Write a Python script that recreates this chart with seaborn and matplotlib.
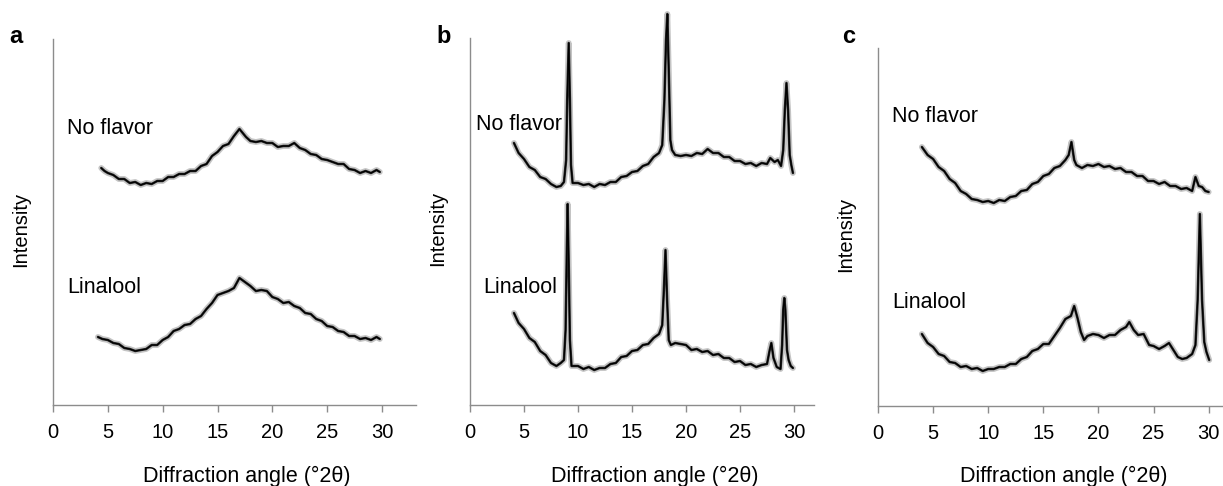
import matplotlib
matplotlib.use("Agg")
import matplotlib.pyplot as plt
import seaborn as sns

# ---- data (intensity in arbitrary units) ----
# panel a
a_top_x = [4.4, 4.7, 5.0, 5.5, 6.0, 6.5, 7.0, 7.5, 8.0, 8.5, 9.0, 9.5, 10.0, 10.5, 11.0, 11.5,
           12.0, 12.5, 13.0, 13.5, 14.0, 14.5, 15.0, 15.5, 16.0, 16.5, 17.0, 17.3, 17.6, 18.0,
           18.5, 19.0, 19.5, 20.0, 20.5, 21.0, 21.5, 22.0, 22.5, 23.0, 23.5, 24.0, 24.5, 25.0,
           25.5, 26.0, 26.5, 27.0, 27.5, 28.0, 28.5, 29.0, 29.5, 29.8]
a_top_y = [237, 234, 232, 230, 226, 226, 222, 223, 220, 222, 221, 224, 224, 228, 228, 231,
           231, 234, 234, 239, 241, 249, 253, 259, 261, 269, 276, 272, 268, 264,
           263, 264, 262, 262, 258, 259, 259, 262, 257, 255, 251, 250, 246, 245,
           243, 241, 241, 236, 235, 232, 234, 232, 235, 233]
a_bot_x = [4.1, 4.5, 5.0, 5.5, 6.0, 6.5, 7.0, 7.5, 8.0, 8.5, 9.0, 9.5, 10.0, 10.5, 11.0, 11.5,
           12.0, 12.5, 13.0, 13.5, 14.0, 14.5, 15.0, 15.5, 16.0, 16.5, 17.0, 17.5, 18.0, 18.5,
           19.0, 19.5, 20.0, 20.5, 21.0, 21.5, 22.0, 22.5, 23.0, 23.5, 24.0, 24.5, 25.0, 25.5,
           26.0, 26.5, 27.0, 27.5, 28.0, 28.5, 29.0, 29.5, 29.8]
a_bot_y = [68, 66, 65, 62, 61, 57, 56, 54, 55, 56, 60, 60, 65, 68, 74, 76,
           80, 81, 86, 89, 96, 102, 110, 112, 114, 117, 127, 123, 119, 114,
           115, 114, 108, 106, 102, 103, 99, 97, 92, 91, 86, 84, 79, 78,
           74, 73, 69, 69, 66, 67, 65, 68, 66]

# panel b
b_top_x = [4.07, 4.5, 5.0, 5.5, 6.0, 6.5, 7.0, 7.5, 8.0, 8.4, 8.7, 8.9, 9.0, 9.14, 9.25, 9.35,
           9.5, 10.0, 10.5, 11.0, 11.5, 12.0, 12.5, 13.0, 13.5, 14.0, 14.5, 15.0, 15.5, 16.0,
           16.5, 17.0, 17.5, 17.8, 18.0, 18.15, 18.27, 18.4, 18.55, 18.7, 19.0, 19.5, 20.0,
           20.5, 21.0, 21.5, 22.0, 22.5, 23.0, 23.5, 24.0, 24.5, 25.0, 25.5, 26.0, 26.5, 27.0,
           27.5, 27.8, 28.2, 28.5, 28.8, 29.0, 29.15, 29.3, 29.45, 29.6, 29.75, 29.9]
b_top_y = [262, 252, 246, 238, 235, 228, 226, 221, 218, 219, 223, 245, 305, 362, 305, 240,
           222, 222, 220, 221, 218, 221, 220, 223, 223, 228, 229, 233, 234, 239,
           241, 248, 252, 260, 305, 365, 391, 335, 265, 255, 250, 249, 250,
           249, 252, 251, 256, 252, 252, 248, 248, 244, 244, 241, 242, 239, 242,
           241, 247, 243, 245, 239, 255, 295, 322, 295, 250, 240, 232]
b_bot_x = [4.07, 4.5, 5.0, 5.5, 6.0, 6.5, 7.0, 7.5, 8.0, 8.4, 8.7, 8.85, 8.95, 9.04, 9.15,
           9.25, 9.4, 10.0, 10.5, 11.0, 11.5, 12.0, 12.5, 13.0, 13.5, 14.0, 14.5, 15.0, 15.5,
           16.0, 16.5, 17.0, 17.5, 17.8, 17.95, 18.1, 18.25, 18.4, 18.6, 19.0, 19.5, 20.0,
           20.5, 21.0, 21.5, 22.0, 22.5, 23.0, 23.5, 24.0, 24.5, 25.0, 25.5, 26.0, 26.5, 27.0,
           27.5, 27.75, 27.9, 28.1, 28.4, 28.75, 28.9, 29.0, 29.1, 29.2, 29.35, 29.5, 29.7, 29.9]
b_bot_y = [92, 82, 76, 67, 63, 54, 50, 42, 39, 42, 45, 75, 145, 201, 135,
           65, 39, 39, 36, 38, 35, 37, 37, 41, 42, 48, 49, 54, 55,
           60, 61, 67, 71, 80, 115, 155, 105, 65, 60, 62, 61, 60,
           55, 56, 53, 54, 50, 51, 47, 47, 43, 44, 40, 41, 38, 40,
           41, 55, 62, 47, 38, 36, 60, 95, 107, 95, 55, 45, 39, 37]

# panel c
c_top_x = [3.98, 4.5, 5.0, 5.5, 6.0, 6.5, 7.0, 7.5, 8.0, 8.5, 9.0, 9.5, 10.0, 10.5, 11.0,
           11.5, 12.0, 12.5, 13.0, 13.5, 14.0, 14.5, 15.0, 15.5, 16.0, 16.5, 17.0, 17.3,
           17.55, 17.8, 18.0, 18.5, 19.0, 19.5, 20.0, 20.5, 21.0, 21.5, 22.0, 22.5, 23.0,
           23.5, 24.0, 24.5, 25.0, 25.5, 26.0, 26.5, 27.0, 27.5, 28.0, 28.5, 28.8, 29.1,
           29.4, 29.7, 30.0]
c_top_y = [259, 251, 247, 239, 235, 227, 223, 215, 212, 207, 206, 204, 205, 203, 206,
           205, 209, 210, 215, 216, 222, 224, 230, 232, 238, 240, 246, 251,
           264, 246, 241, 238, 241, 240, 242, 239, 240, 237, 238, 234, 234,
           230, 230, 225, 225, 222, 224, 220, 220, 217, 218, 215, 229, 220,
           219, 215, 214]
c_bot_x = [3.98, 4.5, 5.0, 5.5, 6.0, 6.5, 7.0, 7.5, 8.0, 8.5, 9.0, 9.5, 10.0, 10.5, 11.0,
           11.5, 12.0, 12.5, 13.0, 13.5, 14.0, 14.5, 15.0, 15.5, 16.0, 16.5, 17.0, 17.5,
           17.8, 18.1, 18.4, 18.7, 19.0, 19.5, 20.0, 20.5, 21.0, 21.5, 22.0, 22.5, 22.8,
           23.2, 23.6, 24.1, 24.6, 25.0, 25.5, 26.0, 26.4, 26.8, 27.2, 27.6, 28.0, 28.5,
           28.8, 29.0, 29.2, 29.4, 29.6, 29.8, 30.05]
c_bot_y = [72, 63, 59, 52, 50, 44, 43, 39, 40, 37, 38, 35, 37, 37, 39,
           39, 42, 42, 47, 49, 55, 57, 62, 62, 70, 78, 87, 90,
           100, 88, 74, 66, 70, 72, 71, 68, 71, 71, 76, 79, 84,
           76, 71, 72, 61, 60, 57, 60, 63, 56, 49, 47, 48, 52,
           61, 106, 192, 106, 64, 54, 46]

panels = [
    ("a", a_top_x, a_top_y, a_bot_x, a_bot_y),
    ("b", b_top_x, b_top_y, b_bot_x, b_bot_y),
    ("c", c_top_x, c_top_y, c_bot_x, c_bot_y),
]
x_ticks = [0, 5, 10, 15, 20, 25, 30]
top_label = "No flavor"
bottom_label = "Linalool"

# ---- layout (pixels of the 1223x486 figure) ----
W, H = 1223, 486
boxes = {"a": (53, 416, 39, 405), "b": (470, 814, 38, 405), "c": (878, 1223, 48, 406)}
xmax = {"a": 33.1, "b": 31.85, "c": 31.3}
label_pos = {"a": [(67, 134), (67, 293)], "b": [(476, 130), (483, 293)], "c": [(892, 122), (892, 308)]}
letter_pos = {"a": (9, 43), "b": (436, 43), "c": (842, 43)}

sns.set_style("white")
plt.rcParams["font.family"] = ["Liberation Sans", "DejaVu Sans"]
plt.rcParams["text.color"] = "black"
plt.rcParams["axes.labelcolor"] = "black"
plt.rcParams["xtick.color"] = "black"

fig = plt.figure(figsize=(W / 100, H / 100), dpi=100)
axis_grey = "#8c8c8c"

for name, tx, ty, bx, by in panels:
    l, r, t, b = boxes[name]
    ax = fig.add_axes([l / W, (H - b) / H, (r - l) / W, (b - t) / H])
    for xs, ys in [(tx, ty), (bx, by)]:
        # fuzzy grey band under a dark line, like the noisy scan
        sns.lineplot(x=xs, y=ys, ax=ax, color="#8a8a8a", linewidth=4.2, alpha=0.5)
        sns.lineplot(x=xs, y=ys, ax=ax, color="#2a2a2a", linewidth=1.8)
        sns.lineplot(x=xs, y=ys, ax=ax, color="black", linewidth=0.9)
    for ln in ax.lines:
        ln.set_clip_on(False)
    ax.set_xlim(0, xmax[name])
    ax.set_ylim(0, b - t)
    ax.set_xticks(x_ticks)
    ax.set_yticks([])
    ax.tick_params(axis="x", direction="out", length=5, width=1, color=axis_grey,
                   labelsize=14.5, labelcolor="black", pad=8, bottom=True)
    for side in ["top", "right"]:
        ax.spines[side].set_visible(False)
    for side in ["left", "bottom"]:
        ax.spines[side].set_color(axis_grey)
        ax.spines[side].set_linewidth(1)
    ax.set_xlabel("Diffraction angle (°2θ)", fontsize=15.5)
    ax.xaxis.set_label_coords((247 - 53) / 363 if name == "a" else 0.5 + 13 / (r - l), -(476 - b) / (b - t))
    ax.xaxis.label.set_va("center")
    ax.set_ylabel("Intensity", fontsize=14.5)
    ax.yaxis.set_label_coords(-32 / (r - l), 0.48)
    ax.yaxis.label.set_va("center")

    (x1, y1), (x2, y2) = label_pos[name]
    fig.text(x1 / W, 1 - y1 / H, top_label, fontsize=15.5, va="baseline")
    fig.text(x2 / W, 1 - y2 / H, bottom_label, fontsize=15.5, va="baseline")
    lx, ly = letter_pos[name]
    fig.text(lx / W, 1 - ly / H, name, fontsize=17, fontweight="bold", va="baseline")

fig.savefig("out.png", dpi=100)
